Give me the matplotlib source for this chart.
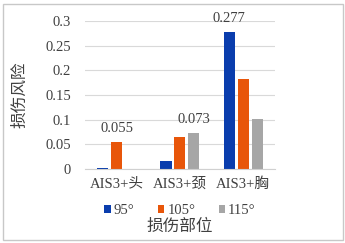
import numpy as np
import matplotlib
matplotlib.use('Agg')
import matplotlib.pyplot as plt
from matplotlib.patches import Rectangle

plt.rcParams['font.family'] = ['Liberation Serif', 'Noto Sans CJK SC']

# data
parts = ['AIS3+头', 'AIS3+颈', 'AIS3+胸']
angles = ['95°', '105°', '115°']
risk_95 = [0.003, 0.017, 0.277]
risk_105 = [0.055, 0.064, 0.183]
risk_115 = [0.0, 0.073, 0.102]
colors = ['#0A3DAD', '#E8560A', '#A6A6A6']

# labelled bars: (series index, category index)
labelled = [(1, 0), (2, 1), (0, 2)]

fig = plt.figure(figsize=(3.45, 2.43), dpi=100)
ax = fig.add_axes([0.246, 0.3045, 0.551, 0.609])

x = np.arange(len(parts))
step = 0.22
width = 0.175
series = [risk_95, risk_105, risk_115]
for i, (vals, lab, c) in enumerate(zip(series, angles, colors)):
    ax.bar(x + (i - 1) * step, vals, width, color=c, label=lab, zorder=2)

for si, ci in labelled:
    v = series[si][ci]
    ax.annotate('%g' % v, (x[ci] + (si - 1) * step, v), xytext=(0, 5),
                textcoords='offset points', ha='center', va='bottom',
                fontsize=10.5, color='#404040')

ax.set_xlim(-0.5, 2.5)
ax.set_ylim(0, 0.3)
ax.set_yticks(np.arange(0, 0.31, 0.05))
ax.set_yticklabels(['0', '0.05', '0.1', '0.15', '0.2', '0.25', '0.3'])
ax.set_xticks(x)
ax.set_xticklabels(parts)
ax.tick_params(length=0, labelsize=10.5, colors='#404040', pad=6)
ax.tick_params(axis='y', pad=10)
ax.grid(axis='y', color='#D9D9D9', lw=0.8, zorder=0)
for s in ['top', 'right', 'left']:
    ax.spines[s].set_visible(False)
ax.spines['bottom'].set_color('#D0D0D0')

ax.set_ylabel('损伤风险', fontsize=12, color='#404040', labelpad=12)
ax.set_xlabel('损伤部位', fontsize=12, color='#404040', labelpad=20)

ax.legend(loc='upper center', bbox_to_anchor=(0.5, -0.15), ncol=3, frameon=False,
          fontsize=10.5, handlelength=0.45, handleheight=0.45, handletextpad=0.2,
          columnspacing=1.6, labelcolor='#404040')

fig.patches.append(Rectangle((0.008, 0.012), 0.985, 0.973, transform=fig.transFigure,
                             fill=False, edgecolor='#C8C8C8', lw=1))

fig.savefig('out.png', dpi=100)
